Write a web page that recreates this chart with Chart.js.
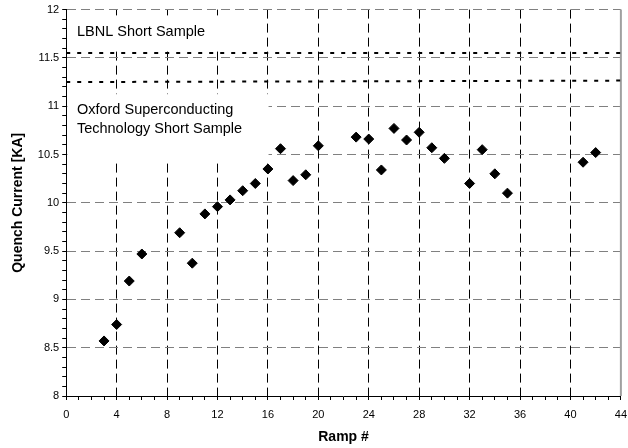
<!DOCTYPE html>
<html lang="en">
<head>
    <meta charset="UTF-8">
    <title>Quench Current vs Ramp</title>
    <script src="https://cdn.jsdelivr.net/npm/chart.js"></script>
    <style>
        html, body { margin: 0; padding: 0; background: #fff; }
        #wrap { width: 628px; height: 448px; }
    </style>
</head>
<body>
    <div id="wrap"><canvas id="chart"></canvas></div>

    <script>
        // ramp number and measured quench current (kA)
        var ramps = [3, 4, 5, 6, 9, 10, 11, 12, 13, 14, 15, 16, 17, 18, 19, 20,
                     23, 24, 25, 26, 27, 28, 29, 30, 32, 33, 34, 35, 41, 42];
        var quenchCurrent = [8.57, 8.74, 9.19, 9.47, 9.69, 9.375, 9.885, 9.96, 10.03, 10.125, 10.2, 10.35, 10.56, 10.23, 10.29, 10.59,
                             10.68, 10.66, 10.34, 10.77, 10.65, 10.73, 10.57, 10.46, 10.2, 10.55, 10.3, 10.1, 10.42, 10.52];

        // short sample limits (drawn across the whole ramp range)
        var lbnlX = [0, 44];
        var lbnlY = [11.55, 11.55];
        var oxfordX = [0, 44];
        var oxfordY = [11.25, 11.265];

        var xTicksMajor = [4, 8, 12, 16, 20, 24, 28, 32, 36, 40];

        function pts(xs, ys) {
            return xs.map(function (x, i) { return { x: x, y: ys[i] }; });
        }

        var FONT = "'Liberation Sans', Arial, sans-serif";

        // white text boxes (Excel style) that hide the grid behind them,
        // plus the grey frame line on the right of the plot area
        var textBoxes = {
            id: 'textBoxes',
            beforeDatasetsDraw: function (chart) {
                var ctx = chart.ctx, xs = chart.scales.x, ys = chart.scales.y, area = chart.chartArea;
                var boxes = [
                    { x0: 0.1, x1: 14, y0: 11.94, y1: 11.59, lines: ['LBNL Short Sample'], tx: 0.85, ty: 11.73 },
                    { x0: 0.1, x1: 16.05, y0: 11.125, y1: 10.417, lines: ['Oxford Superconducting', 'Technology Short Sample'], tx: 0.85, ty: 10.924 }
                ];
                ctx.save();
                boxes.forEach(function (b) {
                    var left = xs.getPixelForValue(b.x0), right = xs.getPixelForValue(b.x1);
                    var top = ys.getPixelForValue(b.y0), bottom = ys.getPixelForValue(b.y1);
                    ctx.fillStyle = '#fff';
                    ctx.fillRect(left, top, right - left, bottom - top);
                    ctx.fillStyle = '#000';
                    ctx.font = '14.5px ' + FONT;
                    ctx.textBaseline = 'alphabetic';
                    var tx = xs.getPixelForValue(b.tx), ty = ys.getPixelForValue(b.ty);
                    b.lines.forEach(function (l, i) {
                        ctx.fillText(l, tx, ty + i * 19);
                    });
                });
                ctx.strokeStyle = '#a0a0a0';
                ctx.lineWidth = 2;
                ctx.beginPath();
                ctx.moveTo(area.right, area.top);
                ctx.lineTo(area.right, area.bottom);
                ctx.stroke();
                ctx.restore();
            }
        };

        new Chart(document.getElementById('chart').getContext('2d'), {
            type: 'scatter',
            data: {
                datasets: [{
                    label: 'Quench current',
                    data: pts(ramps, quenchCurrent),
                    pointStyle: 'rectRot',
                    pointRadius: 5,
                    backgroundColor: '#000',
                    borderColor: '#000',
                    borderWidth: 1
                }, {
                    type: 'line',
                    label: 'LBNL Short Sample',
                    data: pts(lbnlX, lbnlY),
                    borderColor: '#000',
                    borderWidth: 2,
                    borderDash: [4, 7],
                    pointRadius: 0,
                    fill: false
                }, {
                    type: 'line',
                    label: 'Oxford Superconducting Technology Short Sample',
                    data: pts(oxfordX, oxfordY),
                    borderColor: '#000',
                    borderWidth: 2,
                    borderDash: [4, 7],
                    pointRadius: 0,
                    fill: false
                }]
            },
            options: {
                responsive: true,
                maintainAspectRatio: false,
                animation: false,
                layout: { padding: { left: 8, right: 0, top: 7, bottom: 0 } },
                plugins: {
                    legend: { display: false },
                    tooltip: { enabled: false }
                },
                scales: {
                    x: {
                        type: 'linear',
                        min: 0,
                        max: 44,
                        ticks: {
                            stepSize: 1,
                            autoSkip: false,
                            maxRotation: 0,
                            padding: 1,
                            color: '#000',
                            font: { family: FONT, size: 11, lineHeight: '28px' },
                            callback: function (v) { return v % 4 === 0 ? String(v) : ''; }
                        },
                        grid: {
                            color: function (c) {
                                var v = c.tick ? c.tick.value : 0;
                                return xTicksMajor.indexOf(v) >= 0 ? '#000' : 'rgba(0,0,0,0)';
                            },
                            lineWidth: 1,
                            tickColor: '#000',
                            tickLength: 4
                        },
                        border: { color: '#000', width: 1, dash: [9, 5] },
                        title: {
                            display: true,
                            text: 'Ramp #',
                            color: '#000',
                            font: { family: FONT, size: 14, weight: 'bold', lineHeight: 1 },
                            padding: { top: 0, bottom: 4 }
                        }
                    },
                    y: {
                        min: 8,
                        max: 12,
                        ticks: {
                            stepSize: 0.1,
                            autoSkip: false,
                            padding: 3,
                            color: '#000',
                            font: { family: FONT, size: 11 },
                            callback: function (v) {
                                var h = v * 2;
                                return Math.abs(h - Math.round(h)) < 1e-6 ? String(Math.round(h) / 2) : '';
                            }
                        },
                        grid: {
                            color: function (c) {
                                var v = c.tick ? c.tick.value : 0;
                                var h = v * 2;
                                var major = Math.abs(h - Math.round(h)) < 1e-6;
                                return major && v > 8.01 ? '#808080' : 'rgba(0,0,0,0)';
                            },
                            lineWidth: 1,
                            tickColor: '#000',
                            tickLength: 4
                        },
                        border: { color: '#000', width: 1, dash: [9, 5] },
                        title: {
                            display: true,
                            text: 'Quench Current [KA]',
                            color: '#000',
                            font: { family: FONT, size: 14, weight: 'bold' },
                            padding: { top: 2, bottom: 8 }
                        }
                    }
                }
            },
            plugins: [textBoxes]
        });
    </script>
</body>
</html>
